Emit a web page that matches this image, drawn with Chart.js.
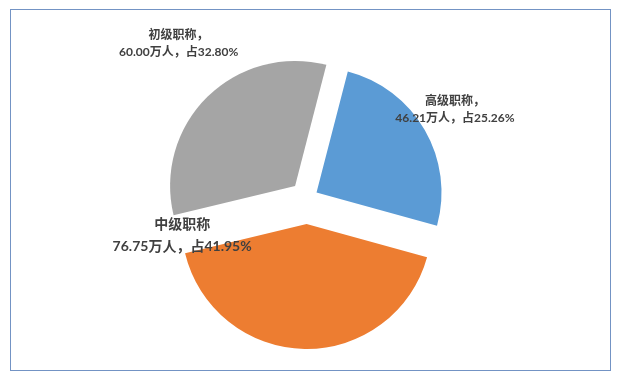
<!DOCTYPE html>
<html>
<head>
<meta charset="utf-8">
<script src="https://cdn.jsdelivr.net/npm/chart.js@4/dist/chart.umd.min.js"></script>
<style>
html,body{margin:0;padding:0;background:#fff;}
#wrap{position:relative;width:621px;height:380px;overflow:hidden;}
#frame{position:absolute;left:10px;top:9px;width:601px;height:362px;border:1px solid #7393c4;box-sizing:border-box;}
canvas{position:absolute;left:0;top:0;}
</style>
</head>
<body>
<div id="wrap">
  <div id="frame"></div>
  <canvas id="c" width="621" height="380"></canvas>
</div>
<script>
// ---- data ----
const categories = ['高级职称', '中级职称', '初级职称'];
const values = [46.21, 76.75, 60.00];      // 万人
const percents = [25.26, 41.95, 32.80];    // %
const nameSuffix = ['，', '', '，'];

// ---- style ----
const colors = ['#5B9BD5', '#ED7D31', '#A5A5A5'];
const explode = [11, 26, 17];               // px the slice is pulled out
const labelPlace = [                        // angle relative to slice mid (deg), radius factor
  {dAngle: -0.8, r: 1.29, size: 12, gap: 16.5},
  {dAngle: 83.6, r: 1.0,  size: 14, gap: 22},
  {dAngle: 5.2,  r: 1.47, size: 12, gap: 17}
];

const explodePlugin = {
  id: 'explode',
  afterDatasetUpdate(chart, args) {
    const meta = chart.getDatasetMeta(args.index);
    meta.data.forEach((el, i) => {
      const mid = (el.startAngle + el.endAngle) / 2;
      el.x += Math.cos(mid) * explode[i];
      el.y += Math.sin(mid) * explode[i];
    });
  }
};

const labelPlugin = {
  id: 'sliceLabels',
  afterDatasetsDraw(chart) {
    const ctx = chart.ctx;
    const meta = chart.getDatasetMeta(0);
    ctx.save();
    ctx.fillStyle = '#404040';
    ctx.textAlign = 'center';
    ctx.textBaseline = 'middle';
    meta.data.forEach((el, i) => {
      const p = labelPlace[i];
      const a = (el.startAngle + el.endAngle) / 2 + p.dAngle * Math.PI / 180;
      const ax = el.x + Math.cos(a) * el.outerRadius * p.r;
      const ay = el.y + Math.sin(a) * el.outerRadius * p.r;
      ctx.font = 'bold ' + p.size + 'px Lato, "Noto Sans CJK SC", sans-serif';
      ctx.fillText(categories[i] + nameSuffix[i], ax, ay - p.gap / 2);
      ctx.fillText(values[i].toFixed(2) + '万人，占' + percents[i].toFixed(2) + '%', ax, ay + p.gap / 2);
    });
    ctx.restore();
  }
};

new Chart(document.getElementById('c').getContext('2d'), {
  type: 'pie',
  data: {
    labels: categories,
    datasets: [{
      data: values,
      backgroundColor: colors,
      borderWidth: 0,
      rotation: 14.5,
      radius: 125
    }]
  },
  options: {
    responsive: false,
    animation: false,
    events: [],
    layout: {padding: {left: 0, right: 7, top: 16, bottom: 0}},
    plugins: {legend: {display: false}, tooltip: {enabled: false}}
  },
  plugins: [explodePlugin, labelPlugin]
});
</script>
</body>
</html>
